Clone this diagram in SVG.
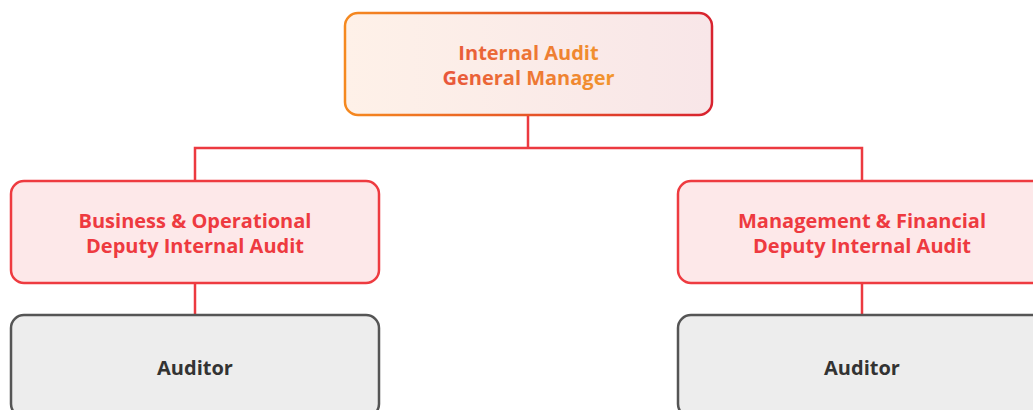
<svg xmlns="http://www.w3.org/2000/svg" width="1033" height="410" viewBox="0 0 1033 410">
  <defs>
    <linearGradient id="gmStroke" x1="0" y1="0" x2="1" y2="0">
      <stop offset="0" stop-color="#F5891F"/>
      <stop offset="1" stop-color="#D8232F"/>
    </linearGradient>
    <linearGradient id="gmFill" x1="0" y1="0" x2="1" y2="0">
      <stop offset="0" stop-color="#FEF1E8"/>
      <stop offset="1" stop-color="#F8E6E8"/>
    </linearGradient>
    <linearGradient id="gmText" gradientUnits="userSpaceOnUse" x1="444" y1="0" x2="614" y2="0">
      <stop offset="0" stop-color="#E8563B"/>
      <stop offset="1" stop-color="#F2962D"/>
    </linearGradient>
  </defs>
  <style>
    text { font-family: "Open Sans", "Noto Sans", "Liberation Sans", sans-serif; font-weight: 700; text-anchor: middle; font-size: 20px; }
    .dep rect { fill: #FDE8E9; stroke: #EE3B40; stroke-width: 2.5; }
    .dep text { fill: #EE3A40; }
    .aud rect { fill: #EDEDED; stroke: #555555; stroke-width: 2.5; }
    .aud text { fill: #333333; }
    #connectors path { fill: none; stroke: #EC3A40; stroke-width: 2.5; }
  </style>
  <g id="connectors">
    <path d="M528 116 V148 M195 180 V148 H862 V180"/>
    <path d="M195 284 V315"/>
    <path d="M862 284 V315"/>
  </g>
  <g id="gm">
    <rect x="345" y="13" width="367" height="102" rx="13" fill="url(#gmFill)" stroke="url(#gmStroke)" stroke-width="2.5"/>
    <text x="528.5" y="60" fill="url(#gmText)">Internal Audit</text>
    <text x="528.5" y="85" fill="url(#gmText)">General Manager</text>
  </g>
  <g id="dep-bo" class="dep">
    <rect x="11" y="181" width="368" height="102" rx="13"/>
    <text x="195" y="228">Business &amp; Operational</text>
    <text x="195" y="253">Deputy Internal Audit</text>
  </g>
  <g id="dep-mf" class="dep">
    <rect x="678" y="181" width="368" height="102" rx="13"/>
    <text x="862" y="228">Management &amp; Financial</text>
    <text x="862" y="253">Deputy Internal Audit</text>
  </g>
  <g id="aud-1" class="aud">
    <rect x="11" y="315" width="368" height="102" rx="13"/>
    <text x="195" y="375">Auditor</text>
  </g>
  <g id="aud-2" class="aud">
    <rect x="678" y="315" width="368" height="102" rx="13"/>
    <text x="862" y="375">Auditor</text>
  </g>
</svg>
